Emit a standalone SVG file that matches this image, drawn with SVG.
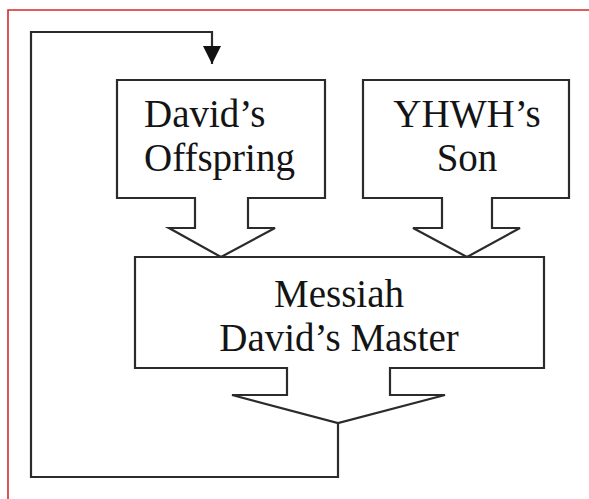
<svg xmlns="http://www.w3.org/2000/svg" width="589" height="499" viewBox="0 0 589 499">
  <defs>
    <style>
      .shape { fill: #ffffff; stroke: #2b2b2b; stroke-width: 2.2; stroke-linejoin: miter; }
      .conn { fill: none; stroke: #2b2b2b; stroke-width: 2.2; }
      .mid { text-anchor: middle; }
    </style>
    <marker id="arrow" viewBox="0 0 10 10" refX="10" refY="5" markerWidth="18" markerHeight="18" markerUnits="userSpaceOnUse" orient="auto">
      <path d="M0,0 L10,5 L0,10 Z" fill="#111111"/>
    </marker>
  </defs>
  <rect x="0" y="0" width="589" height="499" fill="#ffffff"/>
  <path d="M8,499 L8,10 L589,10" fill="none" stroke="#d42a2a" stroke-width="1.6"/>

  <g id="connectors">
    <path class="conn" d="M338,423 L338,477 L31,477 L31,32 L212,32 L212,64" marker-end="url(#arrow)"/>
  </g>

  <g font-family="Liberation Serif, DejaVu Serif, serif" font-size="39" fill="#141414">
    <g id="node-davids-offspring">
      <path class="shape" d="M117,80 L325,80 L325,198 L248,198 L248,228 L275,228 L221,257 L169,228 L195,228 L195,198 L117,198 Z"/>
      <text x="144" y="127">David’s</text>
      <text x="144" y="171">Offspring</text>
    </g>

    <g id="node-yhwhs-son">
      <path class="shape" d="M363,80 L569,80 L569,198 L492,198 L492,228 L520,228 L467,257 L413,228 L442,228 L442,198 L363,198 Z"/>
      <text class="mid" x="467" y="127">YHWH’s</text>
      <text class="mid" x="467" y="171">Son</text>
    </g>

    <g id="node-messiah">
      <path class="shape" d="M135,257 L544,257 L544,368 L390,368 L390,395 L445,395 L338,423 L232,395 L287,395 L287,368 L135,368 Z"/>
      <text class="mid" x="339" y="307">Messiah</text>
      <text class="mid" x="339" y="351">David’s Master</text>
    </g>
  </g>
</svg>
